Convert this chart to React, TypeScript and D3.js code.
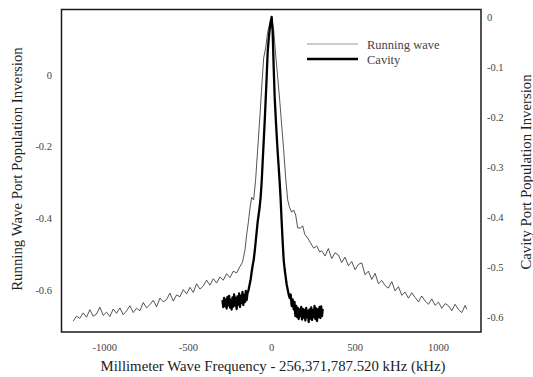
import React from "react";
import * as d3 from "d3";

// Running wave (left axis): frequency offset (kHz), population inversion
const runFreq: number[] = [
  -1190, -1170, -1150, -1130, -1110, -1090, -1070, -1050, -1030, -1010,
  -990, -970, -950, -930, -910, -890, -870, -850, -830, -810,
  -790, -770, -750, -730, -710, -690, -670, -650, -630, -610,
  -590, -570, -550, -530, -510, -490, -470, -450, -430, -410,
  -390, -370, -350, -330, -310, -290, -270, -250, -230, -210,
  -190, -175, -160, -150, -140, -130, -120, -108, -96, -84,
  -72, -60, -48, -36, -24, -12, 0, 12, 24, 36,
  48, 60, 72, 84, 96, 108, 120, 132, 144, 156,
  174, 186, 198, 216, 234, 252, 270, 288,
  300, 320, 340, 360, 380, 400, 420, 440, 460, 480,
  500, 520, 540, 560, 580, 600, 620, 640, 660, 680,
  700, 720, 740, 760, 780, 800, 820, 840, 860, 880,
  900, 920, 940, 960, 980, 1000, 1020, 1040, 1060, 1080,
  1100, 1120, 1140, 1160, 1170,
];
const runValue: number[] = [
  -0.684, -0.67, -0.676, -0.661, -0.673, -0.652, -0.67, -0.664, -0.645, -0.668,
  -0.659, -0.671, -0.65, -0.662, -0.647, -0.666, -0.655, -0.641, -0.66, -0.648,
  -0.655, -0.632, -0.647, -0.638, -0.626, -0.644, -0.62, -0.63, -0.624, -0.606,
  -0.628, -0.611, -0.616, -0.596, -0.608, -0.59, -0.604, -0.58, -0.595, -0.586,
  -0.57, -0.584, -0.566, -0.578, -0.561, -0.57, -0.552, -0.563, -0.545, -0.55,
  -0.532, -0.52, -0.486, -0.444, -0.41, -0.37, -0.34, -0.347, -0.29, -0.208,
  -0.125, -0.036, 0.047, 0.075, 0.119, 0.142, 0.158, 0.125, 0.056, -0.006,
  -0.069, -0.139, -0.208, -0.286, -0.347, -0.369, -0.381, -0.375, -0.389, -0.425,
  -0.425, -0.419, -0.442, -0.453, -0.467, -0.481, -0.475, -0.492,
  -0.488, -0.503, -0.482, -0.51, -0.494, -0.5, -0.521, -0.506, -0.53, -0.518,
  -0.541, -0.526, -0.522, -0.555, -0.545, -0.568, -0.551, -0.58, -0.571, -0.585,
  -0.592, -0.574, -0.6, -0.588, -0.612, -0.603, -0.62, -0.605, -0.618, -0.63,
  -0.614, -0.628, -0.637, -0.622, -0.64, -0.631, -0.648, -0.635, -0.641, -0.655,
  -0.637, -0.652, -0.66, -0.64, -0.651,
];

// Cavity (right axis): frequency offset (kHz), population inversion
const cavFreq: number[] = [
  -295, -290, -285, -280, -275, -270, -265, -260, -255, -250,
  -245, -240, -235, -230, -225, -220, -215, -210, -205, -200,
  -195, -190, -185, -180, -175, -170, -165, -160, -155, -150,
  -145, -140, -132, -126, -120, -114, -108, -102, -96, -90,
  -84, -78, -72, -66, -60, -54, -48, -42, -36, -30,
  -24, -18, -12, -6, 0, 6, 12, 18, 24, 30,
  36, 42, 48, 54, 60, 66, 72, 78, 84, 90,
  96, 102, 108, 114, 120, 126, 132, 137,
  142, 147, 152, 157, 162, 167, 172, 177, 182, 187,
  192, 197, 202, 207, 212, 217, 222, 227, 232, 237,
  242, 247, 252, 257, 262, 267, 272, 277, 282, 287,
  292, 297, 302, 306,
];
const cavValue: number[] = [
  -0.566, -0.58, -0.562, -0.578, -0.565, -0.583, -0.56, -0.576, -0.558, -0.581,
  -0.566, -0.585, -0.561, -0.579, -0.555, -0.577, -0.562, -0.584, -0.559, -0.575,
  -0.553, -0.58, -0.558, -0.572, -0.55, -0.576, -0.556, -0.57, -0.548, -0.566,
  -0.552, -0.548, -0.535, -0.525, -0.51, -0.497, -0.486, -0.47, -0.45, -0.43,
  -0.41, -0.395, -0.38, -0.36, -0.33, -0.29, -0.25, -0.21, -0.166, -0.12,
  -0.07, -0.045, -0.025, -0.01, 0.0, -0.03, -0.1, -0.16, -0.2, -0.236,
  -0.27, -0.3, -0.33, -0.366, -0.41, -0.45, -0.486, -0.505, -0.52, -0.535,
  -0.545, -0.555, -0.562, -0.555, -0.578, -0.565, -0.585, -0.57,
  -0.598, -0.578, -0.6, -0.582, -0.604, -0.585, -0.598, -0.58, -0.605, -0.584,
  -0.601, -0.586, -0.607, -0.582, -0.6, -0.588, -0.61, -0.585, -0.603, -0.581,
  -0.606, -0.586, -0.6, -0.578, -0.604, -0.583, -0.608, -0.585, -0.6, -0.58,
  -0.602, -0.579, -0.598, -0.584,
];

const xTicks: number[] = [-1000, -500, 0, 500, 1000];
const leftTicks: number[] = [0, -0.2, -0.4, -0.6];
const rightTicks: number[] = [0, -0.1, -0.2, -0.3, -0.4, -0.5, -0.6];
const seriesNames: string[] = ["Running wave", "Cavity"];

const W = 533;
const H = 377;
const plot = { left: 61.5, right: 481, top: 9.5, bottom: 332 };
const FONT = "Liberation Serif, Times New Roman, DejaVu Serif, serif";

export default function App() {
  const x = d3.scaleLinear().domain([-1260, 1255]).range([plot.left, plot.right]);
  const yL = d3.scaleLinear().domain([-0.714, 0.182]).range([plot.bottom, plot.top]);
  const yR = d3.scaleLinear().domain([-0.63, 0.015]).range([plot.bottom, plot.top]);

  const runLine = d3
    .line<number>()
    .x((_, i) => x(runFreq[i]))
    .y((v) => yL(v));
  const cavLine = d3
    .line<number>()
    .x((_, i) => x(cavFreq[i]))
    .y((v) => yR(v));

  const fmt = (v: number) => (v === 0 ? "0" : String(v));
  const ts = { fontFamily: FONT };

  return (
    <svg
      width={W}
      height={H}
      style={{ position: "absolute", left: 0, top: 0, background: "#fff", fontFamily: FONT }}
    >
      <rect x={0} y={0} width={W} height={H} fill="#fff" />
      <path d={runLine(runValue) || ""} fill="none" stroke="#2a2a2a" strokeWidth={0.8} strokeLinejoin="round" />
      <path d={cavLine(cavValue) || ""} fill="none" stroke="#000" strokeWidth={2.3} strokeLinejoin="round" />
      <rect
        x={plot.left}
        y={plot.top}
        width={plot.right - plot.left}
        height={plot.bottom - plot.top}
        fill="none"
        stroke="#1a1a1a"
        strokeWidth={1.5}
      />
      {xTicks.map((t) => (
        <text key={"x" + t} style={ts} x={x(t)} y={351} textAnchor="middle" fontSize={10.5} fill="#444">
          {fmt(t)}
        </text>
      ))}
      {leftTicks.map((t) => (
        <text key={"l" + t} style={ts} x={52} y={yL(t) + 3.5} textAnchor="end" fontSize={10.5} fill="#444">
          {fmt(t)}
        </text>
      ))}
      {rightTicks.map((t) => (
        <text key={"r" + t} style={ts} x={487} y={yR(t) + 3.5} textAnchor="start" fontSize={10.5} fill="#444">
          {fmt(t)}
        </text>
      ))}
      <text style={ts} x={273} y={371} textAnchor="middle" fontSize={14.8} fill="#222">
        Millimeter Wave Frequency - 256,371,787.520 kHz (kHz)
      </text>
      <text
        style={ts}
        transform={`translate(22, 169) rotate(-90)`}
        textAnchor="middle"
        fontSize={14.8}
        fill="#222"
      >
        Running Wave Port Population Inversion
      </text>
      <text
        style={ts}
        transform={`translate(531, 172) rotate(-90)`}
        textAnchor="middle"
        fontSize={14.8}
        fill="#222"
      >
        Cavity Port Population Inversion
      </text>
      <line x1={307} x2={358} y1={44} y2={44} stroke="#999" strokeWidth={1.2} />
      <line x1={307} x2={358} y1={59} y2={59} stroke="#000" strokeWidth={2.3} />
      <text style={ts} x={367} y={49} fontSize={12.5} fill="#444">{seriesNames[0]}</text>
      <text style={ts} x={367} y={64} fontSize={12.5} fill="#444">{seriesNames[1]}</text>
    </svg>
  );
}
